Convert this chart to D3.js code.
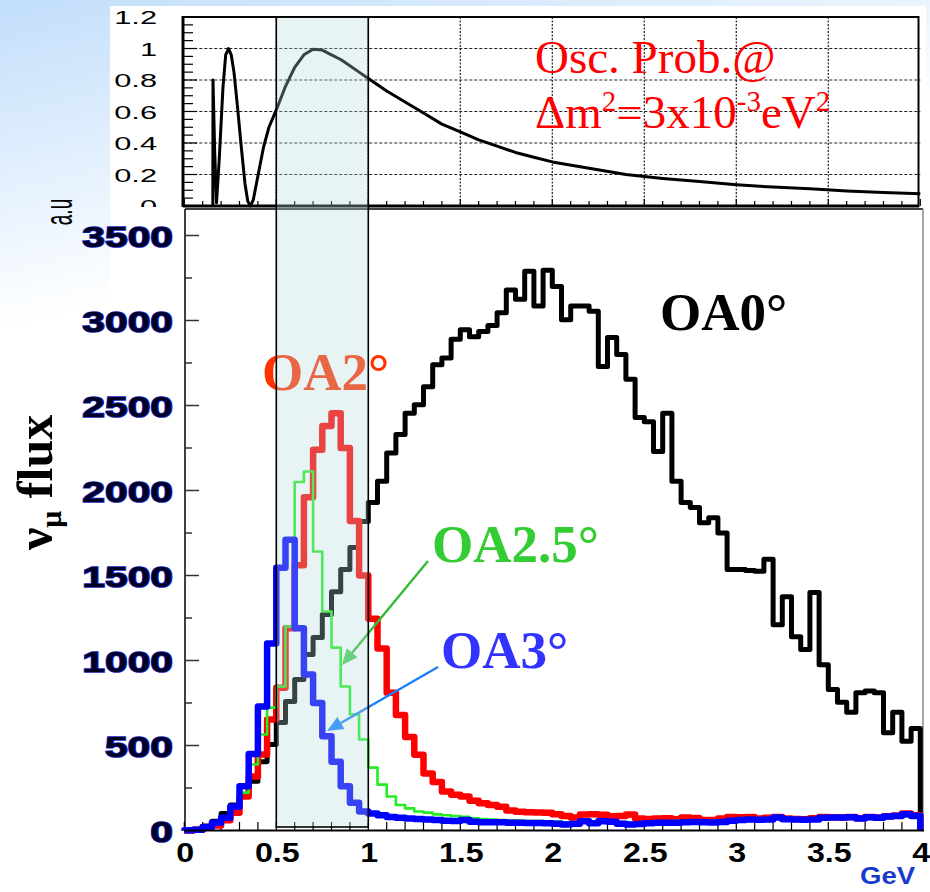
<!DOCTYPE html>
<html>
<head>
<meta charset="utf-8">
<script src="https://cdn.jsdelivr.net/npm/d3@7/dist/d3.min.js"></script>
<style>
  body { margin: 0; background: #fff; }
  svg { display: block; }
</style>
</head>
<body>
<div id="chart"></div>
<script>
//
// Data
//

// histogram bins: 80 bins of 0.05 GeV from 0 to 4 GeV
const binWidth = 0.05;

// OA 0 degree flux (black)
const fluxOA0 = [
  2, 8, 25, 55, 100, 150, 210, 290, 405, 506,
  635, 759, 888, 1035, 1135, 1270, 1405, 1535, 1665, 1818,
  1930, 2055, 2220, 2330, 2455, 2505, 2610, 2740, 2780, 2890,
  2945, 2905, 2935, 2970, 3045, 3180, 3125, 3290, 3085, 3295,
  3200, 3005, 3085, 3085, 3055, 2730, 2900, 2800, 2655, 2430,
  2405, 2230, 2455, 2055, 1930, 1900, 1810, 1840, 1750, 1535,
  1535, 1530, 1525, 1595, 1210, 1375, 1140, 1065, 1400, 975,
  830, 755, 695, 810, 820, 810, 575, 695, 525, 600
];

// OA 2 degree flux (red)
const fluxOA2 = [
  0, 5, 20, 30, 60, 105, 200, 318, 447, 653,
  840, 1190, 1560, 1960, 2240, 2380, 2455, 2250, 1820, 1500,
  1245, 1070, 810, 680, 550, 445, 335, 285, 230, 210,
  200, 175, 160, 150, 140, 118, 110, 108, 106, 104,
  95, 85, 76, 94, 96, 92, 84, 86, 94, 70,
  68, 70, 72, 66, 76, 74, 62, 62, 70, 80,
  78, 80, 70, 75, 80, 70, 68, 66, 72, 80,
  78, 76, 80, 72, 80, 76, 84, 88, 100, 90
];

// OA 2.5 degree flux (green)
const fluxOA25 = [
  0, 3, 15, 40, 75, 130, 223, 388, 565, 723,
  847, 1200, 2050, 2112, 1641, 1288, 1076, 847, 682, 535,
  370, 270, 200, 150, 130, 112, 105, 95, 90, 85,
  80, 72, 68, 64, 62, 60, 58, 56, 55, 54,
  52, 48, 50, 60, 52, 62, 58, 50, 45, 48,
  50, 52, 52, 55, 56, 56, 54, 55, 58, 62,
  66, 68, 66, 68, 72, 68, 66, 64, 68, 72,
  74, 74, 74, 68, 74, 72, 76, 78, 82, 78
];

// OA 3 degree flux (blue)
const fluxOA3 = [
  2, 4, 20, 45, 75, 140, 260, 450, 730, 1100,
  1545, 1710, 1190, 918, 750, 555, 405, 260, 163, 112,
  100, 90, 80, 75, 70, 68, 65, 62, 58, 56,
  62, 52, 49, 48, 48, 46, 45, 44, 44, 42,
  40, 36, 40, 55, 42, 55, 52, 40, 35, 38,
  42, 45, 45, 46, 48, 50, 48, 47, 50, 58,
  62, 65, 63, 65, 76, 66, 64, 63, 65, 75,
  76, 76, 78, 70, 78, 75, 82, 85, 95, 85
];

// oscillation probability curve (top panel)
const probEnergy = [
  0.155, 0.156, 0.165, 0.175, 0.19, 0.21, 0.225, 0.24, 0.255, 0.27,
  0.29, 0.31, 0.33, 0.345, 0.36, 0.375, 0.4, 0.43, 0.46, 0.5,
  0.55, 0.6, 0.65, 0.7, 0.75, 0.8, 0.85, 0.9, 0.95, 1.0,
  1.1, 1.2, 1.3, 1.4, 1.5, 1.6, 1.7, 1.8, 1.9, 2.0,
  2.2, 2.4, 2.6, 2.8, 3.0, 3.2, 3.4, 3.6, 3.8, 4.0
];
const probValue = [
  0.0, 0.80, 0.35, 0.02, 0.30, 0.75, 0.96, 1.0, 0.96, 0.85,
  0.62, 0.37, 0.14, 0.03, 0.0, 0.04, 0.19, 0.37, 0.50, 0.61,
  0.76, 0.88, 0.96, 0.995, 0.99, 0.96, 0.93, 0.89, 0.85, 0.81,
  0.73, 0.66, 0.59, 0.52, 0.47, 0.42, 0.38, 0.34, 0.31, 0.28,
  0.24, 0.20, 0.175, 0.155, 0.135, 0.12, 0.11, 0.095, 0.085, 0.077
];

const energyTicks = [0, 0.5, 1, 1.5, 2, 2.5, 3, 3.5, 4];
const energyLabels = ['0', '0.5', '1', '1.5', '2', '2.5', '3', '3.5', '4'];
const fluxTicks = [0, 500, 1000, 1500, 2000, 2500, 3000, 3500];
const probTicks = [0, 0.2, 0.4, 0.6, 0.8, 1, 1.2];
const probLabels = ['0', '0.2', '0.4', '0.6', '0.8', '1', '1.2'];
const bandRange = [0.5, 1.0];

//
// Canvas
//
const W = 930, H = 892;
const svg = d3.select('#chart').append('svg')
  .attr('width', W)
  .attr('height', H);

const defs = svg.append('defs');
let bg = defs.append('linearGradient')
  .attr('id', 'slidebg')
  .attr('x1', 0).attr('y1', 0).attr('x2', 0.25).attr('y2', 1);
bg.append('stop').attr('offset', '0%').attr('stop-color', '#c2defb');
bg.append('stop').attr('offset', '35%').attr('stop-color', '#ffffff');

defs.append('clipPath').attr('id', 'topclip')
  .append('rect').attr('x', 0).attr('y', 0).attr('width', W).attr('height', 207);

// slide background + white picture area
svg.append('rect').attr('width', W).attr('height', H).attr('fill', 'url(#slidebg)');
svg.append('rect').attr('x', 110).attr('y', 6).attr('width', 816).attr('height', H - 6)
  .attr('fill', '#fff');

// scales (lower panel and top panel share the energy axis)
const x = d3.scaleLinear().domain([0, 4]).range([184.3, 920.3]);
const y = d3.scaleLinear().domain([0, 3500]).range([830.5, 235.5]);
const yp = d3.scaleLinear().domain([0, 1.2]).range([206, 17]);

// text with horizontal stretch, the picture's labels are wide
function wideText(g, tx, ty, str, sx, opts) {
  let t = g.append('g')
    .attr('transform', 'translate(' + tx + ',' + ty + ') scale(' + sx + ',1)')
    .append('text')
    .attr('text-anchor', opts.anchor || 'start')
    .attr('font-family', opts.family || '"Liberation Sans", Arial, sans-serif')
    .attr('font-size', opts.size)
    .attr('font-weight', opts.weight || 'normal')
    .attr('fill', opts.fill || '#000')
    .text(str);
  if (opts.stroke) {
    t.attr('stroke', opts.stroke).attr('stroke-width', opts.sw)
      .attr('paint-order', 'stroke');
  }
  return t;
}

//
// Top panel: oscillation probability
//
const topPanel = svg.append('g');

// dotted grid
topPanel.selectAll('.hgrid')
  .data(probTicks.filter(d => d > 0 && d < 1.2))
  .enter().append('line')
  .attr('x1', x(0)).attr('x2', x(4))
  .attr('y1', d => yp(d)).attr('y2', d => yp(d))
  .attr('stroke', '#222').attr('stroke-width', 1)
  .attr('stroke-dasharray', '3,2');
topPanel.selectAll('.vgrid')
  .data(energyTicks.filter(d => d > 0 && d < 4))
  .enter().append('line')
  .attr('x1', d => x(d)).attr('x2', d => x(d))
  .attr('y1', yp(1.2)).attr('y2', yp(0))
  .attr('stroke', '#222').attr('stroke-width', 1.2)
  .attr('stroke-dasharray', '2,1.5');

// ticks
topPanel.selectAll('.ytick')
  .data(d3.range(0, 1.2001, 0.05))
  .enter().append('line')
  .attr('x1', 183).attr('x2', (d, i) => i % 4 === 0 ? 197 : 193)
  .attr('y1', d => yp(d)).attr('y2', d => yp(d))
  .attr('stroke', '#000').attr('stroke-width', 1.2);
topPanel.selectAll('.xtick')
  .data(d3.range(0, 4.001, 0.1))
  .enter().append('line')
  .attr('x1', d => x(d)).attr('x2', d => x(d))
  .attr('y1', 206).attr('y2', (d, i) => i % 5 === 0 ? 199 : 201)
  .attr('stroke', '#000').attr('stroke-width', 1.2);

// probability curve
topPanel.append('path')
  .attr('d', d3.line()
    .x((d, i) => x(probEnergy[i]))
    .y(d => yp(d))(probValue))
  .attr('fill', 'none')
  .attr('stroke', '#000')
  .attr('stroke-width', 3)
  .attr('stroke-linejoin', 'round');

// frame
topPanel.append('line').attr('x1', 183).attr('x2', 919).attr('y1', 17).attr('y2', 17)
  .attr('stroke', '#000').attr('stroke-width', 2.2);
topPanel.append('line').attr('x1', 183).attr('x2', 919).attr('y1', 206).attr('y2', 206)
  .attr('stroke', '#000').attr('stroke-width', 3);
topPanel.append('line').attr('x1', 183).attr('x2', 183).attr('y1', 16).attr('y2', 207)
  .attr('stroke', '#000').attr('stroke-width', 3);
topPanel.append('line').attr('x1', 918.5).attr('x2', 918.5).attr('y1', 16).attr('y2', 207)
  .attr('stroke', '#000').attr('stroke-width', 2);

// y labels (bottom "0" is cut by the lower panel)
const topLabels = topPanel.append('g').attr('clip-path', 'url(#topclip)');
probTicks.forEach(function(d, i) {
  wideText(topLabels, 157, yp(d) + 7, probLabels[i], 1.62,
    {anchor: 'end', size: 19});
});

// "a.u" label, rotated
topPanel.append('g')
  .attr('transform', 'translate(72,212) scale(2.0,1) rotate(-90)')
  .append('text')
  .attr('text-anchor', 'middle')
  .attr('font-family', '"Liberation Sans", Arial, sans-serif')
  .attr('font-size', 19)
  .text('a.u');

// annotation
const osc = topPanel.append('g')
  .attr('font-family', '"Liberation Serif", "Times New Roman", serif')
  .attr('fill', '#ff0000');
osc.append('text').attr('x', 535).attr('y', 73).attr('font-size', 47)
  .text('Osc. Prob.@');
let dm = osc.append('text').attr('x', 535).attr('y', 128).attr('font-size', 47);
dm.append('tspan').text('\u0394m');
dm.append('tspan').attr('font-size', 29).attr('dy', -17).text('2');
dm.append('tspan').attr('dy', 17).text('=3x10');
dm.append('tspan').attr('font-size', 29).attr('dy', -17).text('-3');
dm.append('tspan').attr('dy', 17).text('eV');
dm.append('tspan').attr('font-size', 29).attr('dy', -17).text('2');

//
// Lower panel: flux histograms
//
const low = svg.append('g');

// frame
low.append('line').attr('x1', 185).attr('x2', 923).attr('y1', 209).attr('y2', 209)
  .attr('stroke', '#000').attr('stroke-width', 1.5);
low.append('line').attr('x1', 185).attr('x2', 185).attr('y1', 209).attr('y2', 831)
  .attr('stroke', '#000').attr('stroke-width', 1.5);
low.append('line').attr('x1', 923).attr('x2', 923).attr('y1', 209).attr('y2', 831)
  .attr('stroke', '#888').attr('stroke-width', 1.5);

// y ticks, minor every 250
low.selectAll('.ytick')
  .data(d3.range(0, 3501, 250))
  .enter().append('line')
  .attr('x1', 185).attr('x2', (d, i) => i % 2 === 0 ? 199 : 192)
  .attr('y1', d => y(d)).attr('y2', d => y(d))
  .attr('stroke', '#333').attr('stroke-width', 1.5);

// x ticks every 0.1
low.selectAll('.xtick')
  .data(d3.range(0, 4.001, 0.1))
  .enter().append('line')
  .attr('x1', d => x(d)).attr('x2', d => x(d))
  .attr('y1', 830).attr('y2', 822)
  .attr('stroke', '#000').attr('stroke-width', 1.2);

// histogram step path
function histPath(vals) {
  let pts = [[0, 0]];
  vals.forEach(function(v, i) {
    pts.push([i * binWidth, v]);
    pts.push([(i + 1) * binWidth, v]);
  });
  pts.push([vals.length * binWidth, 0]);
  return d3.line().x(d => x(d[0])).y(d => y(d[1]))(pts);
}

const series = [
  {vals: fluxOA0, color: '#000000', width: 5},
  {vals: fluxOA2, color: '#ff0000', width: 6.5},
  {vals: fluxOA25, color: '#22ee22', width: 2.6},
  {vals: fluxOA3, color: '#0000ff', width: 6.5}
];
series.forEach(function(s) {
  low.append('path')
    .attr('d', histPath(s.vals))
    .attr('fill', 'none')
    .attr('stroke', s.color)
    .attr('stroke-width', s.width)
    .attr('stroke-linejoin', 'round');
});

// bottom axis line
low.append('line').attr('x1', 184).attr('x2', 924).attr('y1', 830.5).attr('y2', 830.5)
  .attr('stroke', '#000').attr('stroke-width', 2);

// curve labels
const lab = low.append('g')
  .attr('font-family', '"Liberation Serif", "Times New Roman", serif')
  .attr('font-weight', 'bold')
  .attr('font-size', 53);
lab.append('text').attr('x', 660).attr('y', 330).attr('fill', '#000').text('OA0\u00b0');
lab.append('text').attr('x', 262).attr('y', 390).attr('fill', '#ff3300').text('OA2\u00b0');
lab.append('text').attr('x', 432).attr('y', 562).attr('fill', '#33cc33').text('OA2.5\u00b0');
lab.append('text').attr('x', 441).attr('y', 668).attr('fill', '#3333ff').text('OA3\u00b0');

// arrows from labels to curves
function arrow(x1, y1, x2, y2, color, headColor) {
  let ang = Math.atan2(y2 - y1, x2 - x1);
  let len = 16, half = 7;
  let bx = x2 - len * Math.cos(ang), by = y2 - len * Math.sin(ang);
  low.append('line')
    .attr('x1', x1).attr('y1', y1).attr('x2', bx).attr('y2', by)
    .attr('stroke', color).attr('stroke-width', 2.4);
  low.append('path')
    .attr('d', 'M' + x2 + ',' + y2 +
      'L' + (bx - half * Math.sin(ang)) + ',' + (by + half * Math.cos(ang)) +
      'L' + (bx + half * Math.sin(ang)) + ',' + (by - half * Math.cos(ang)) + 'Z')
    .attr('fill', headColor);
}
arrow(428, 561, 342, 665, '#33bb33', '#44cc55');
arrow(438, 667, 327, 731, '#1a80ff', '#1a80ff');

// y tick labels, dark with blue rim
fluxTicks.forEach(function(d) {
  wideText(low, 173, y(d) + 11, String(d), 1.36,
    {anchor: 'end', size: 30, weight: 'bold', fill: '#000022',
     stroke: '#1020c0', sw: 1.6});
});

// x tick labels
energyTicks.forEach(function(d, i) {
  wideText(low, x(d) + 1, 862, energyLabels[i], 1.15,
    {anchor: 'middle', size: 28, weight: 'bold'});
});
wideText(low, 860, 884, 'GeV', 1.15,
  {size: 24, weight: 'bold', fill: '#1a3acc'});

// y axis title
let yt = svg.append('text')
  .attr('transform', 'translate(52,550) rotate(-90)')
  .attr('font-family', '"Liberation Serif", "Times New Roman", serif')
  .attr('font-weight', 'bold')
  .attr('font-size', 50);
yt.append('tspan').text('\u03bd');
yt.append('tspan').attr('font-size', 30).attr('dy', 9).text('\u03bc');
yt.append('tspan').attr('dy', -9).text(' flux');

//
// Highlight band 0.5-1 GeV across both panels (semi transparent overlay)
//
svg.append('rect')
  .attr('x', x(bandRange[0])).attr('y', 17)
  .attr('width', x(bandRange[1]) - x(bandRange[0]))
  .attr('height', 827 - 17)
  .attr('fill', 'rgb(181,219,219)')
  .attr('fill-opacity', 0.31)
  .attr('stroke', '#000')
  .attr('stroke-width', 1.6);
</script>
</body>
</html>
